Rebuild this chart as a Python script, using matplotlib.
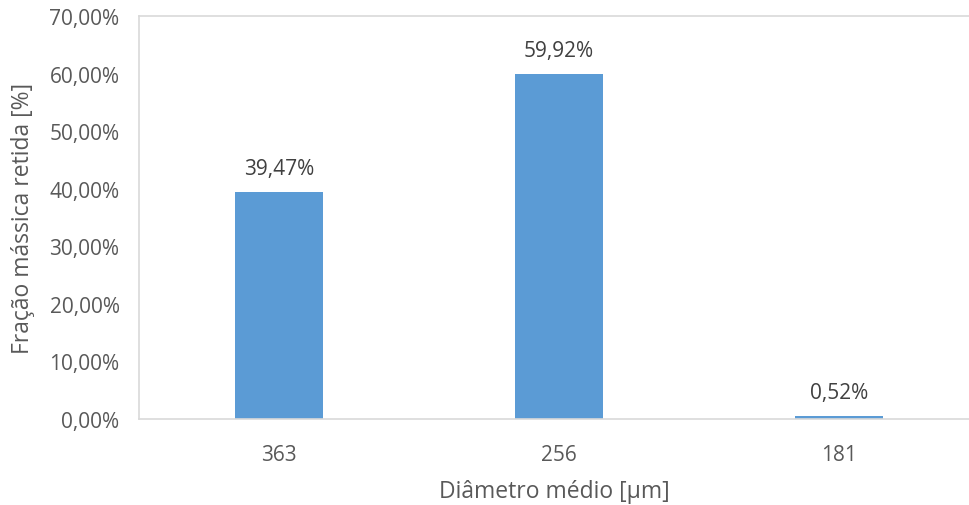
import matplotlib.pyplot as plt
import numpy as np
from matplotlib.ticker import FuncFormatter

diametros = ["363", "256", "181"]
fracao = [39.47, 59.92, 0.52]

plt.rcParams['font.family'] = ['Open Sans', 'DejaVu Sans']
cor_texto = '#595959'

fig = plt.figure(figsize=(9.70, 5.06), dpi=100)
ax = fig.add_axes([139 / 970, 1 - 420 / 506, (970 - 139) / 970, (420 - 17) / 506])

x = np.arange(len(diametros))
barras = ax.bar(x, fracao, width=0.315, color='#5b9bd5')

# rótulos de valor acima das barras
for xi, v in zip(x, fracao):
    ax.text(xi, v + 2.3, f"{v:.2f}%".replace('.', ','), ha='center', va='bottom',
            fontsize=15, color='#404040')

ax.set_xlim(-0.5, 2.468)
ax.set_ylim(0, 70)
ax.set_yticks(np.arange(0, 71, 10))
ax.yaxis.set_major_formatter(FuncFormatter(lambda v, p: f"{v:.2f}%".replace('.', ',')))
ax.set_xticks(x)
ax.set_xticklabels(diametros)
ax.tick_params(axis='both', length=0, labelsize=15, colors=cor_texto)
ax.tick_params(axis='x', pad=18)
ax.tick_params(axis='y', pad=14)

for lado in ['left', 'top', 'bottom']:
    ax.spines[lado].set_color('#d9d9d9')
    ax.spines[lado].set_linewidth(1.2)
ax.spines['right'].set_visible(False)

ax.set_xlabel("Diâmetro médio [µm]", fontsize=16.5, color=cor_texto, labelpad=10)
ax.set_ylabel("Fração mássica retida [%]", fontsize=16.5, color=cor_texto)
ax.yaxis.set_label_coords(-0.125, 0.5)

fig.savefig("out.png", dpi=100)
